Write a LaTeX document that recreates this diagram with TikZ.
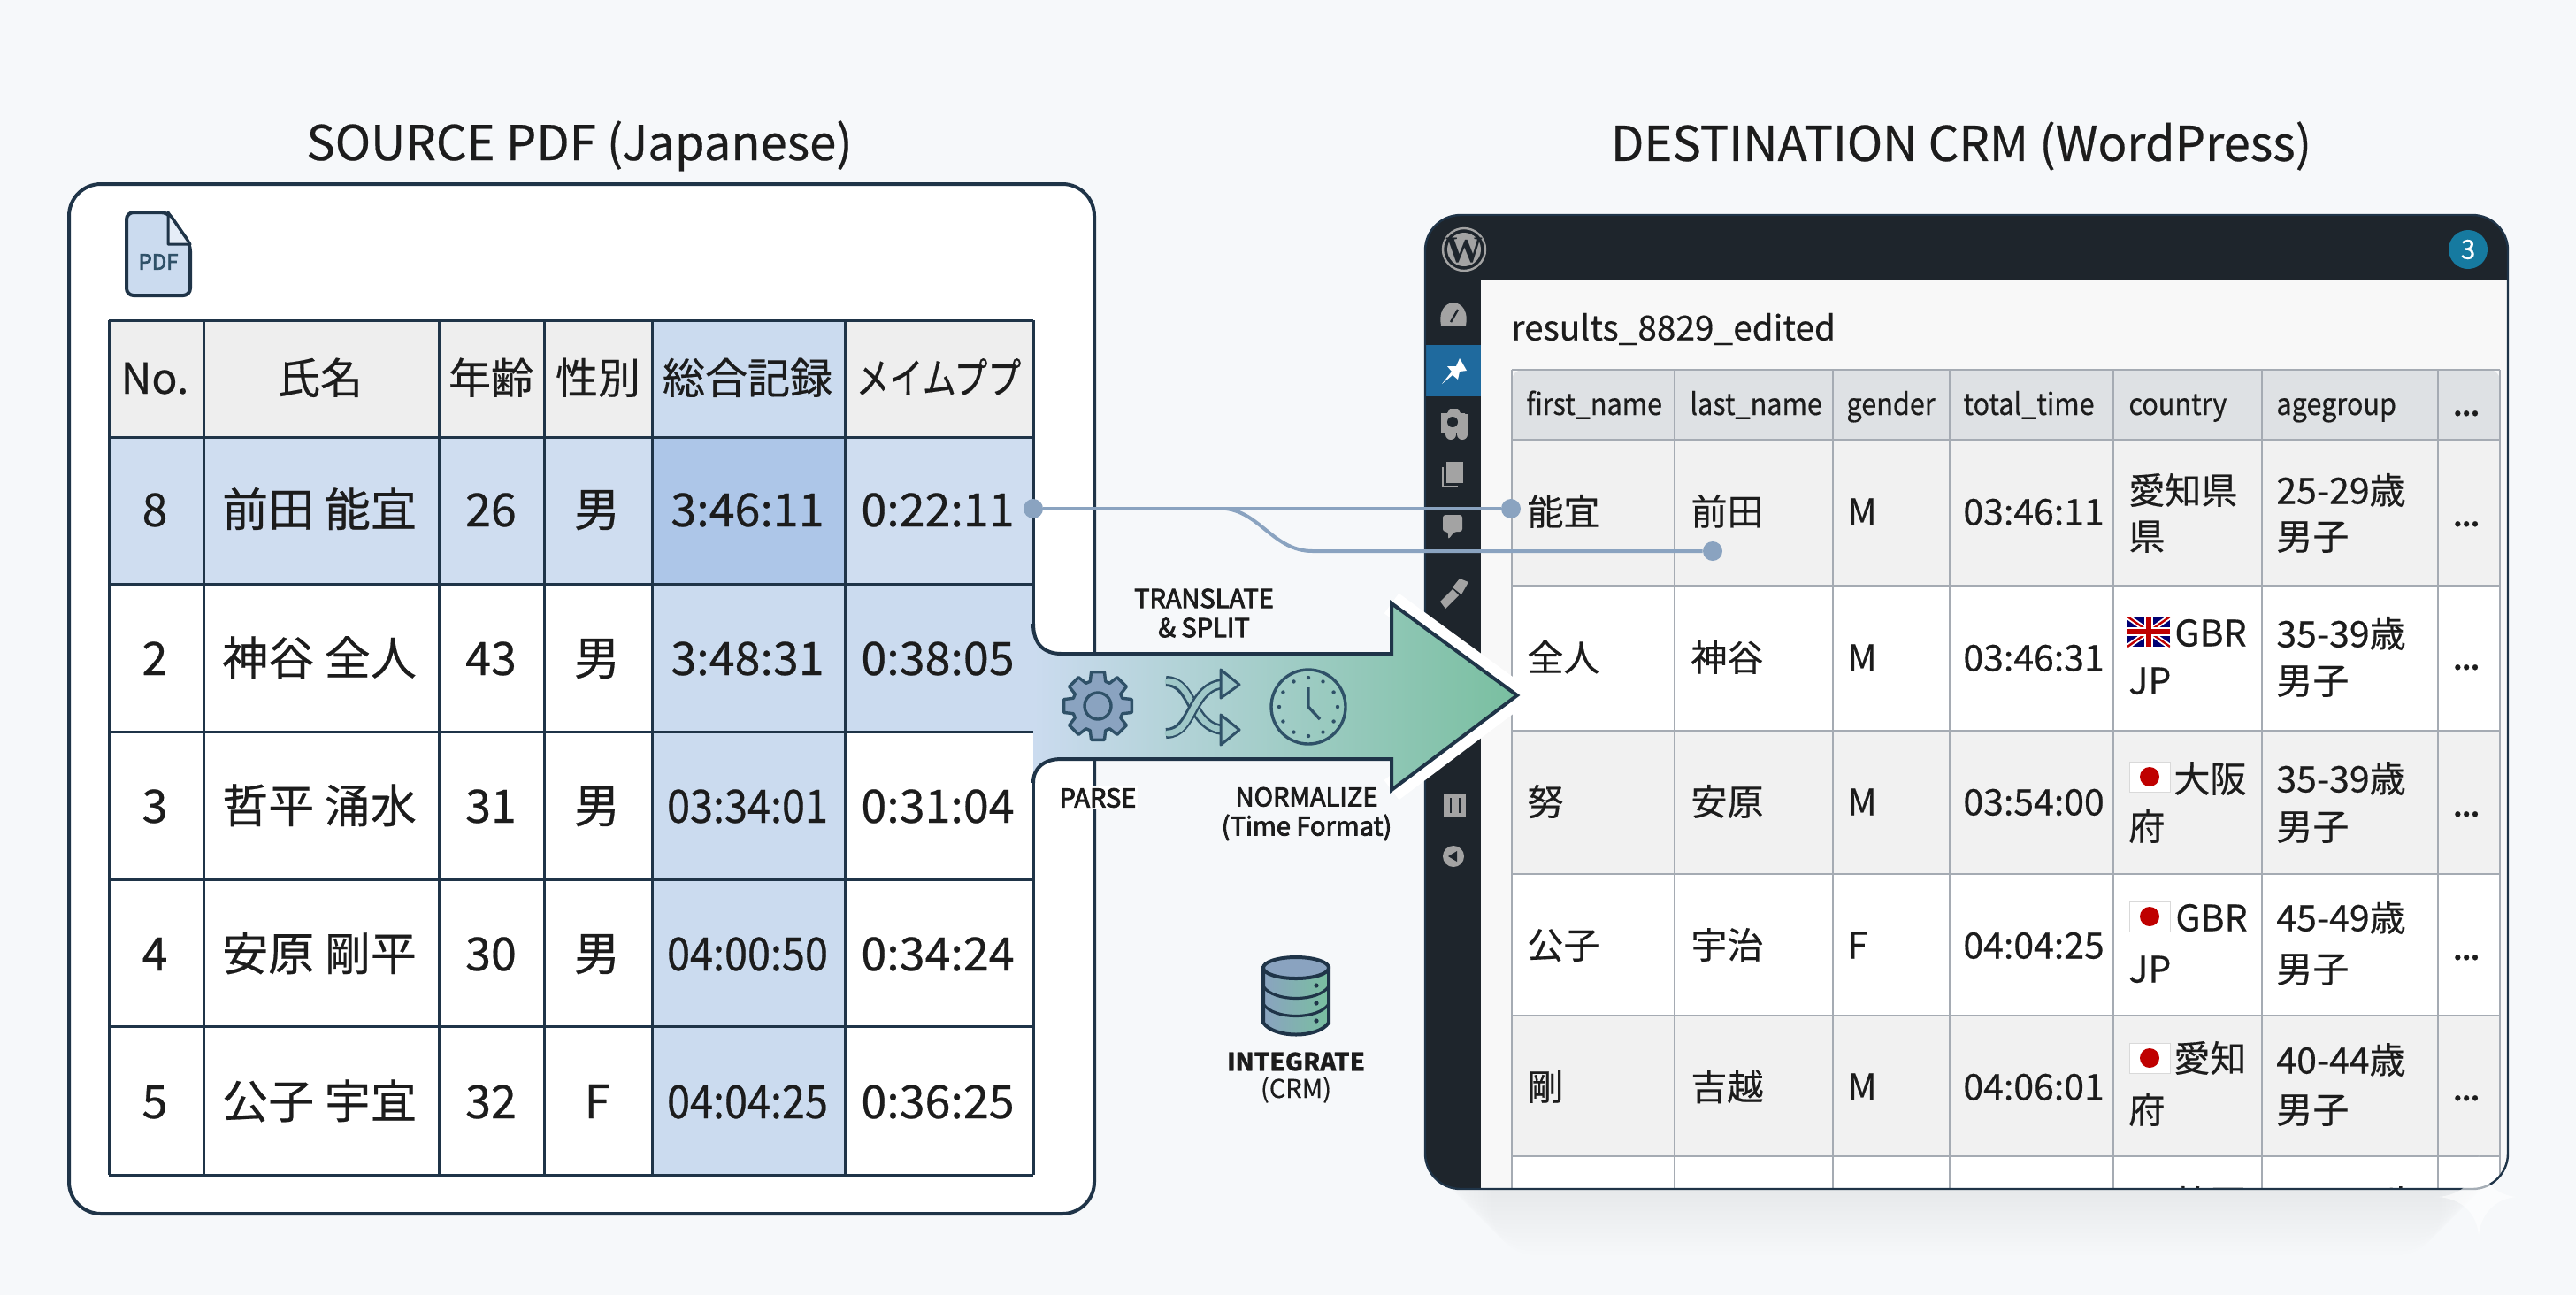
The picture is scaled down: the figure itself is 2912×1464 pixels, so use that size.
\documentclass[tikz,border=0pt]{standalone}
\usepackage{fontspec}
\setmainfont[FakeBold=0.4]{Noto Sans CJK JP}
\newfontfamily\wpfont{Liberation Serif}
\newfontfamily\condfont[FakeStretch=0.9,FakeBold=0.4]{Noto Sans CJK JP}
\newfontfamily\kanafont[FakeStretch=0.79,FakeBold=0.4]{Noto Sans CJK JP}
\newfontfamily\medfont[FakeBold=3]{Noto Sans CJK JP}
\definecolor{bgc}{HTML}{F6F8FA}
\definecolor{ink}{HTML}{1C1C1C}
\definecolor{navy}{HTML}{1F3448}
\definecolor{headc}{HTML}{EEEEEE}
\definecolor{rowc}{HTML}{CFDDF0}
\definecolor{colc}{HTML}{CBDBEF}
\definecolor{hotc}{HTML}{ADC6E8}
\definecolor{wpdark}{HTML}{1E252C}
\definecolor{wpblue}{HTML}{1F6A9E}
\definecolor{wpgray}{HTML}{A3A3A3}
\definecolor{gridc}{HTML}{A5ABB3}
\definecolor{rhead}{HTML}{DEE1E4}
\definecolor{rrow}{HTML}{F1F1F1}
\definecolor{linkc}{HTML}{8AA3C0}
\definecolor{arrowl}{HTML}{CBDBEF}
\definecolor{arrowm}{HTML}{8CC0B8}
\definecolor{arrowr}{HTML}{79BFA0}
\definecolor{iconc}{HTML}{2F5168}
\tikzset{
  title/.style={font=\fontsize{27.2}{32}\selectfont, text=ink},
  lcell/.style={font=\fontsize{26}{30}\selectfont, text=ink, inner sep=0pt, text height=23pt, text depth=3pt},
  lhead/.style={font=\fontsize{24}{30}\selectfont, text=ink, inner sep=0pt, text height=21pt, text depth=3pt},
  ltime/.style={font=\condfont\fontsize{26}{30}\selectfont, text=ink, inner sep=0pt, text height=23pt, text depth=3pt},
  rcell/.style={font=\fontsize{20.5}{26}\selectfont, text=ink, inner sep=0pt, anchor=west, text height=18pt, text depth=2.5pt},
  rhd/.style={font=\condfont\fontsize{17}{22}\selectfont, text=ink, inner sep=0pt, anchor=west, text height=15pt, text depth=2pt},
  rdots/.style={font=\bfseries\fontsize{14}{22}\selectfont, text=ink, inner sep=0pt, anchor=base west},
  lbl/.style={font=\medfont\fontsize{14.5}{16.5}\selectfont, text=ink, align=center, inner sep=1pt},
  lgrid/.style={draw=navy, line width=1.5pt},
  rgrid/.style={draw=gridc, line width=1.2pt},
  dot/.style={circle, fill=linkc, inner sep=0pt, minimum size=11pt},
  link/.style={draw=linkc, line width=2pt},
  side/.style={fill=wpgray, draw=none},
  arrowline/.style={draw=navy, line width=2pt, line join=miter},
  jpflag/.pic={
    \fill[white, draw=black!15, line width=0.4pt] (-23,-17) rectangle (23,17);
    \fill[red!75!black] (0,0) circle (11);
  },
  ukflag/.pic={
    \begin{scope}
      \clip (-24,-17) rectangle (24,17);
      \fill[blue!45!black] (-24,-17) rectangle (24,17);
      \draw[white, line width=3pt] (-24,-17) -- (24,17) (-24,17) -- (24,-17);
      \draw[red!75!black, line width=1.2pt] (-24,-17) -- (24,17) (-24,17) -- (24,-17);
      \draw[white, line width=5pt] (0,-17) -- (0,17) (-24,0) -- (24,0);
      \draw[red!75!black, line width=3pt] (0,-17) -- (0,17) (-24,0) -- (24,0);
    \end{scope}
  }
}
\begin{document}
\begin{tikzpicture}[x=0.5pt,y=-0.5pt]
  \useasboundingbox (0,0) rectangle (2912,1464);
  \fill[bgc] (0,0) rectangle (2912,1464);

  % titles
  \node[title] (srctitle) at (655,165) {SOURCE PDF (Japanese)};
  \node[title] (dsttitle) at (2217,165) {DESTINATION CRM (WordPress)};

  % source card
  \draw[fill=white, draw=navy, line width=2pt, rounded corners=18pt] (78,208) rectangle (1237,1372);
  \draw[fill=colc, draw=navy, line width=2pt, rounded corners=4pt] (143,240) -- (190,240) -- (215,276) -- (215,334) -- (143,334) -- cycle;
  \draw[fill=colc!50!white, draw=navy, line width=1.5pt, line join=round] (190,240) -- (190,276) -- (215,276) -- cycle;
  \node[font=\medfont\fontsize{12}{14}\selectfont, text=iconc, inner sep=0pt] (pdfname) at (179,296) {PDF};

  % source table fills
  \fill[headc] (123,362) rectangle (737,494);
  \fill[colc] (737,362) rectangle (955,494);
  \fill[headc] (955,362) rectangle (1168,494);
  \fill[rowc] (123,494) rectangle (737,660);
  \fill[hotc] (737,494) rectangle (955,660);
  \fill[rowc] (955,494) rectangle (1168,660);
  \fill[colc] (737,660) rectangle (955,1328);
  \fill[colc] (955,660) rectangle (1168,827);

  % source table lines
  \draw[lgrid] (123,362) -- (1168,362);
  \draw[lgrid] (123,494) -- (1168,494);
  \draw[lgrid] (123,660) -- (1168,660);
  \draw[lgrid] (123,827) -- (1168,827);
  \draw[lgrid] (123,994) -- (1168,994);
  \draw[lgrid] (123,1160) -- (1168,1160);
  \draw[lgrid] (123,1328) -- (1168,1328);
  \draw[lgrid] (123,362) -- (123,1328);
  \draw[lgrid] (230,362) -- (230,1328);
  \draw[lgrid] (496,362) -- (496,1328);
  \draw[lgrid] (615,362) -- (615,1328);
  \draw[lgrid] (737,362) -- (737,1328);
  \draw[lgrid] (955,362) -- (955,1328);
  \draw[lgrid] (1168,362) -- (1168,705);
  \draw[lgrid] (1168,885) -- (1168,1328);

  % source table text
  \node[lhead] (Lh1) at (175,427) {No.};
  \node[lhead] (Lh2) at (362,427) {氏名};
  \node[lhead] (Lh3) at (555,427) {年齢};
  \node[lhead] (Lh4) at (676,427) {性別};
  \node[lhead] (Lh5) at (845,427) {総合記録};
  \node[lhead, font=\kanafont\fontsize{24}{30}\selectfont] (Lh6) at (1061,427) {メイムププ};
  \node[lcell] (L11) at (175,575) {8};
  \node[lcell] (L12) at (361,575) {前田 能宜};
  \node[lcell] (L13) at (555,575) {26};
  \node[lcell] (L14) at (675,575) {男};
  \node[lcell] (L15) at (845,575) {3:46:11};
  \node[lcell] (L16) at (1060,575) {0:22:11};
  \node[lcell] (L21) at (175,743) {2};
  \node[lcell] (L22) at (361,743) {神谷 全人};
  \node[lcell] (L23) at (555,743) {43};
  \node[lcell] (L24) at (675,743) {男};
  \node[lcell] (L25) at (845,743) {3:48:31};
  \node[lcell] (L26) at (1060,743) {0:38:05};
  \node[lcell] (L31) at (175,910) {3};
  \node[lcell] (L32) at (361,910) {哲平 涌水};
  \node[lcell] (L33) at (555,910) {31};
  \node[lcell] (L34) at (675,910) {男};
  \node[ltime] (L35) at (845,910) {03:34:01};
  \node[lcell] (L36) at (1060,910) {0:31:04};
  \node[lcell] (L41) at (175,1077) {4};
  \node[lcell] (L42) at (361,1077) {安原 剛平};
  \node[lcell] (L43) at (555,1077) {30};
  \node[lcell] (L44) at (675,1077) {男};
  \node[ltime] (L45) at (845,1077) {04:00:50};
  \node[lcell] (L46) at (1060,1077) {0:34:24};
  \node[lcell] (L51) at (175,1244) {5};
  \node[lcell] (L52) at (361,1244) {公子 宇宜};
  \node[lcell] (L53) at (555,1244) {32};
  \node[lcell] (L54) at (675,1244) {F};
  \node[ltime] (L55) at (845,1244) {04:04:25};
  \node[lcell] (L56) at (1060,1244) {0:36:25};

  % soft shadow of the destination card
  \foreach \s in {5,10,...,75}
    \fill[black, opacity=0.004, rounded corners=25pt] (1611+\s,1200) rectangle (2835-\s,1344+\s);

  % destination card
  \begin{scope}
    \clip[rounded corners=20pt] (1611,243) rectangle (2835,1344);
    \fill[wpdark] (1611,243) rectangle (2835,1344);
    \fill[rrow!50!white] (1674,316) rectangle (2835,1344);
    \fill[wpblue] (1612,390) rectangle (1674,448);
    % table fills
    \fill[white] (1709,662) rectangle (2826,826);
    \fill[rrow] (1709,497) rectangle (2826,662);
    \fill[rrow] (1709,826) rectangle (2826,988);
    \fill[white] (1709,988) rectangle (2826,1148);
    \fill[rrow] (1709,1148) rectangle (2826,1307);
    \fill[white] (1709,1307) rectangle (2826,1344);
    \fill[rhead, rounded corners=6pt] (1709,497) -- (1709,418) -- (2826,418) [sharp corners] -- (2826,497) -- cycle;
    % table lines
    \draw[rgrid] (1709,497) -- (2826,497);
    \draw[rgrid] (1709,662) -- (2826,662);
    \draw[rgrid] (1709,826) -- (2826,826);
    \draw[rgrid] (1709,988) -- (2826,988);
    \draw[rgrid] (1709,1148) -- (2826,1148);
    \draw[rgrid] (1709,1307) -- (2826,1307);
    \draw[rgrid] (1709,418) -- (2826,418);
    \draw[rgrid] (1709,418) -- (1709,1344);
    \draw[rgrid] (1893,418) -- (1893,1344);
    \draw[rgrid] (2072,418) -- (2072,1344);
    \draw[rgrid] (2204,418) -- (2204,1344);
    \draw[rgrid] (2389,418) -- (2389,1344);
    \draw[rgrid] (2557,418) -- (2557,1344);
    \draw[rgrid] (2756,418) -- (2756,1344);
    \draw[rgrid] (2826,418) -- (2826,1344);
    % cut off last row
    \node[rcell] (R63) at (2457,1360) {韓国};
    \node[rcell] (R64) at (2587,1360) {35-39歳};
  \end{scope}
  \draw[draw=navy, line width=1.2pt, rounded corners=20pt] (1611,243) rectangle (2835,1344);

  % admin bar
  \draw[fill=wpdark, draw=wpgray, line width=1.2pt] (1655,282) circle (24);
  \fill[wpgray] (1655,282) circle (19);
  \node[font=\wpfont\bfseries\fontsize{21}{24}\selectfont, text=wpdark, inner sep=0pt] (wplogo) at (1655,283) {W};
  \node[circle, fill=wpblue!80!cyan!90!black, minimum size=22pt, inner sep=0pt, font=\fontsize{15}{16}\selectfont, text=white] (badge) at (2790,282) {3};

  % sidebar icons
  \fill[side] (1629,368) .. controls (1625,345) and (1640,342) .. (1643,342) .. controls (1646,342) and (1661,345) .. (1657,368) -- cycle;
  \draw[wpdark, line width=1.2pt] (1640,364) -- (1648,350);
  \fill[white] (1630,434) -- (1641,420) -- (1636,414) -- (1646,414) -- (1650,405) -- (1658,419) -- (1650,420) -- (1648,429) -- (1642,424) -- cycle;
  \fill[side] (1629,467) -- (1636,467) -- (1639,462) -- (1648,462) -- (1651,467) -- (1656,467) -- (1656,489) -- (1629,489) -- cycle;
  \fill[wpdark] (1642,477) circle (6);
  \fill[side] (1640,491) circle (6);
  \draw[wpgray, line width=2pt] (1654,470) -- (1658,470) -- (1658,490);
  \fill[side] (1653,491) circle (6);
  \draw[wpgray, line width=1pt] (1631,528) -- (1631,550) -- (1648,550);
  \fill[side] (1635,522) rectangle (1654,546);
  \fill[side, rounded corners=1.5pt] (1631,582) -- (1653,582) -- (1653,601) -- (1644,601) -- (1637,610) -- (1637,601) -- (1631,601) -- cycle;
  \fill[side] (1628,680) -- (1642,666) -- (1649,673) -- (1634,688) -- cycle;
  \fill[side] (1642,664) -- (1650,654) -- (1660,658) -- (1652,672) -- cycle;
  \fill[side] (1632,898) rectangle (1657,923);
  \draw[wpdark, line width=1pt] (1640,902) -- (1640,919) (1650,902) -- (1650,919);
  \fill[side] (1643,968) circle (12);
  \fill[wpdark] (1637,968) -- (1647,962) -- (1647,974) -- cycle;

  % destination table text
  \node[font=\fontsize{19.4}{24}\selectfont, text=ink, inner sep=0pt, anchor=west] (restitle) at (1708,372) {results\_8829\_edited};
  \node[rhd] (Rh1) at (1725,456) {first\_name};
  \node[rhd] (Rh2) at (1910,456) {last\_name};
  \node[rhd] (Rh3) at (2087,456) {gender};
  \node[rhd] (Rh4) at (2219,456) {total\_time};
  \node[rhd] (Rh5) at (2406,456) {country};
  \node[rhd] (Rh6) at (2573,456) {agegroup};
  \node[rdots] (Rh7) at (2773,470) {...};
  \node[rcell] (R11) at (1726,578) {能宜};
  \node[rcell] (R12) at (1911,578) {前田};
  \node[rcell] (R13) at (2088,578) {M};
  \node[rcell] (R14) at (2219,578) {03:46:11};
  \node[rcell] (R15) at (2406,554) {愛知県};
  \node[rcell] (R15b) at (2406,606) {県};
  \node[rcell] (R16) at (2573,554) {25-29歳};
  \node[rcell] (R16b) at (2573,606) {男子};
  \node[rdots] (R17) at (2773,595) {...};
  \node[rcell] (R21) at (1726,743) {全人};
  \node[rcell] (R22) at (1911,743) {神谷};
  \node[rcell] (R23) at (2088,743) {M};
  \node[rcell] (R24) at (2219,743) {03:46:31};
  \pic at (2429,714) {ukflag};
  \node[rcell] (R25) at (2458,715) {GBR};
  \node[rcell] (R25b) at (2406,769) {JP};
  \node[rcell] (R26) at (2573,716) {35-39歳};
  \node[rcell] (R26b) at (2573,769) {男子};
  \node[rdots] (R27) at (2773,757) {...};
  \node[rcell] (R31) at (1726,906) {努};
  \node[rcell] (R32) at (1911,906) {安原};
  \node[rcell] (R33) at (2088,906) {M};
  \node[rcell] (R34) at (2219,906) {03:54:00};
  \pic at (2430,878) {jpflag};
  \node[rcell] (R35) at (2457,880) {大阪};
  \node[rcell] (R35b) at (2406,934) {府};
  \node[rcell] (R36) at (2573,880) {35-39歳};
  \node[rcell] (R36b) at (2573,934) {男子};
  \node[rdots] (R37) at (2773,923) {...};
  \node[rcell] (R41) at (1726,1068) {公子};
  \node[rcell] (R42) at (1911,1068) {宇治};
  \node[rcell] (R43) at (2088,1068) {F};
  \node[rcell] (R44) at (2219,1068) {04:04:25};
  \pic at (2430,1036) {jpflag};
  \node[rcell] (R45) at (2459,1037) {GBR};
  \node[rcell] (R45b) at (2406,1095) {JP};
  \node[rcell] (R46) at (2573,1037) {45-49歳};
  \node[rcell] (R46b) at (2573,1095) {男子};
  \node[rdots] (R47) at (2773,1085) {...};
  \node[rcell] (R51) at (1726,1228) {剛};
  \node[rcell] (R52) at (1911,1228) {吉越};
  \node[rcell] (R53) at (2088,1228) {M};
  \node[rcell] (R54) at (2219,1228) {04:06:01};
  \pic at (2430,1196) {jpflag};
  \node[rcell] (R55) at (2457,1196) {愛知};
  \node[rcell] (R55b) at (2406,1254) {府};
  \node[rcell] (R56) at (2573,1198) {40-44歳};
  \node[rcell] (R56b) at (2573,1254) {男子};
  \node[rdots] (R57) at (2773,1244) {...};

  % big arrow
  \draw[white, line width=14pt, line join=round] (1573,682) -- (1715,786) -- (1573,893);
  \fill[left color=arrowl, middle color=arrowm, right color=arrowr] (1168,705) .. controls (1168,728) and (1180,739) .. (1200,739) -- (1573,739) -- (1573,682) -- (1715,786) -- (1573,893) -- (1573,858) -- (1200,858) .. controls (1180,858) and (1168,868) .. (1168,885) -- cycle;
  \draw[arrowline] (1168,705) .. controls (1168,728) and (1180,739) .. (1200,739) -- (1573,739) -- (1573,682) -- (1715,786) -- (1573,893) -- (1573,858) -- (1200,858) .. controls (1180,858) and (1168,868) .. (1168,885);

  % gear
  \begin{scope}[shift={(1241,798)}]
    \draw[fill=linkc, draw=iconc, line width=1.7pt, line join=round] (-17.5:29)
      \foreach \a in {0,45,...,315} {
        -- (\a-17.5:29) -- (\a-11:39) -- (\a+11:39) -- (\a+17.5:29)
      } -- cycle;
    \draw[draw=iconc, line width=1.7pt] (0,0) circle (15);
  \end{scope}

  % shuffle
  \draw[iconc, line width=6pt] (1318,770) .. controls (1350,770) and (1345,823) .. (1384,825);
  \draw[arrowm!70!arrowl, line width=3.4pt, line cap=round] (1320,770) .. controls (1350,770) and (1345,823) .. (1384,825);
  \draw[iconc, line width=6pt] (1318,829) .. controls (1350,829) and (1345,775) .. (1384,773);
  \draw[arrowm!70!arrowl, line width=3.4pt, line cap=round] (1320,829) .. controls (1350,829) and (1345,775) .. (1384,773);
  \draw[fill=arrowm!70!arrowl, draw=iconc, line width=1.5pt, line join=round] (1380,757) -- (1401,774) -- (1380,789) -- cycle;
  \draw[fill=arrowm!70!arrowl, draw=iconc, line width=1.5pt, line join=round] (1380,808) -- (1401,825) -- (1380,842) -- cycle;

  % clock
  \begin{scope}[shift={(1479,799)}]
    \draw[draw=iconc, line width=1.7pt] (0,0) circle (42);
    \foreach \a in {0,30,...,330}
      \fill[iconc] (\a:33) circle (2.2);
    \draw[draw=iconc, line width=1.7pt] (0,-22) -- (0,0) -- (13,14);
  \end{scope}

  % step labels
  \node[lbl] (translate) at (1361,693) {TRANSLATE\\\& SPLIT};
  \node[lbl, fill=white] (parse) at (1241,902) {PARSE};
  \node[lbl] (normalize) at (1477,920) {NORMALIZE\\(Time Format)};

  % database
  \draw[fill=linkc, left color=linkc, right color=arrowr, draw=navy, line width=2pt] (1428,1094) -- (1428,1156) .. controls (1440,1174) and (1490,1174) .. (1502,1156) -- (1502,1094) -- cycle;
  \draw[navy, line width=1.6pt] (1428,1115) .. controls (1440,1133) and (1490,1133) .. (1502,1115);
  \draw[navy, line width=1.6pt] (1428,1135) .. controls (1440,1153) and (1490,1153) .. (1502,1135);
  \draw[fill=linkc, draw=navy, line width=2pt] (1465,1094) ellipse (37 and 12);
  \fill[navy] (1488,1114) circle (2.6);
  \fill[navy] (1488,1134) circle (2.6);
  \fill[navy] (1488,1154) circle (2.6);
  \node[font=\bfseries\fontsize{13.8}{16.5}\selectfont, text=ink, align=center, inner sep=0pt] (integrate) at (1465,1200) {INTEGRATE};
  \node[font=\fontsize{14.5}{16.5}\selectfont, text=ink, inner sep=0pt] (crm) at (1465,1232) {(CRM)};

  % links
  \node[dot] (dsrc) at (1168,575) {};
  \node[dot] (dfirst) at (1708,575) {};
  \node[dot] (dlast) at (1936,623) {};
  \coordinate (bstart) at (1386,575);
  \coordinate (bend) at (1484,623);
  \draw[link] (dsrc) -- (dfirst);
  \draw[link] (bstart) .. controls (1425,580) and (1440,623) .. (bend) -- (dlast);

  % sparkle
  \fill[white, opacity=0.6] (2752,1353) .. controls (2785,1353) and (2802,1330) .. (2802,1306) .. controls (2802,1330) and (2820,1353) .. (2848,1353) .. controls (2820,1353) and (2802,1375) .. (2802,1400) .. controls (2802,1375) and (2785,1353) .. (2752,1353) -- cycle;
\end{tikzpicture}
\end{document}
